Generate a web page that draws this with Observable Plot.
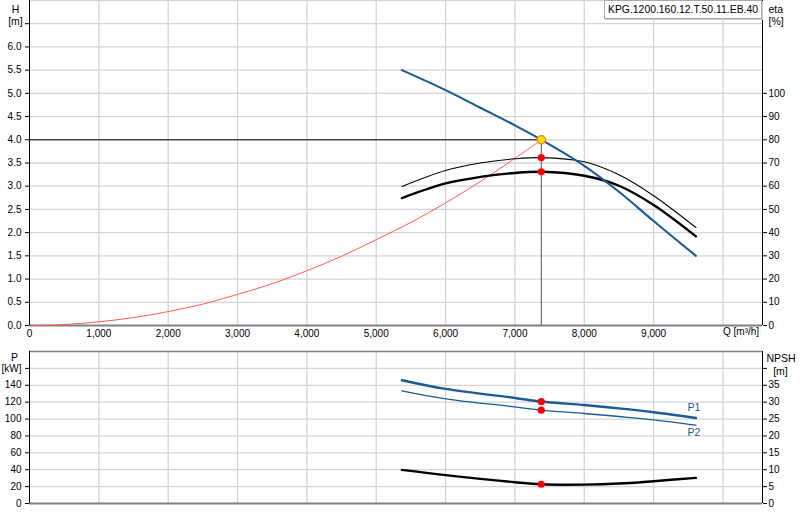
<!DOCTYPE html>
<html><head><meta charset="utf-8">
<script src="https://cdn.jsdelivr.net/npm/d3@7"></script>
<script src="https://cdn.jsdelivr.net/npm/@observablehq/plot@0.6"></script>
<style>
html,body{margin:0;padding:0;background:#fff;}
#wrap{position:relative;width:800px;height:520px;font-family:"Liberation Sans",Arial,sans-serif;}
#wrap svg{display:block;overflow:visible;}
#legend{position:absolute;left:604px;top:0;width:158px;height:19px;border:1px solid #a8a8a8;box-shadow:1px 1px 0 #d0d0d0;background:#fff;font-size:10.4px;line-height:17px;padding-left:3px;box-sizing:border-box;white-space:nowrap;color:#000;}
</style></head><body>
<div id="wrap"></div>
<script>
// ---- data ----
const model = "KPG.1200.160.12.T.50.11.EB.40";
const xMax = 10570;
const xTicks = [0, 1000, 2000, 3000, 4000, 5000, 6000, 7000, 8000, 9000];
const xGrid = [1000, 2000, 3000, 4000, 5000, 6000, 7000, 8000, 9000, 10000];
const qLabel = "Q [m³/h]";
const hTicks = [0, 0.5, 1, 1.5, 2, 2.5, 3, 3.5, 4, 4.5, 5, 5.5, 6, 6.5];
const hGrid = [0.5, 1, 1.5, 2, 2.5, 3, 3.5, 4, 4.5, 5, 5.5, 6, 6.5, 7];
const etaTicks = [0, 10, 20, 30, 40, 50, 60, 70, 80, 90, 100];
const pTicks = [0, 20, 40, 60, 80, 100, 120, 140, 160];
const pGrid = [20, 40, 60, 80, 100, 120, 140, 160];
const npshTicks = [0, 5, 10, 15, 20, 25, 30, 35, 40];

const pumpQ   = [5370, 6000, 6500, 7000, 7380, 8000, 8500, 9000, 9610];
const headH   = [5.50, 5.07, 4.69, 4.31, 4.00, 3.44, 2.88, 2.25, 1.50];
const etaThin = [59.9, 66.8, 70.0, 71.8, 72.3, 70.5, 64.9, 55.9, 42.2];
const etaThick= [54.9, 61.2, 64.0, 65.7, 66.2, 64.5, 60.2, 51.9, 38.4];

const sysQ = [0, 500, 1000, 1500, 2000, 2500, 3000, 3500, 4000, 4500, 5000, 5500, 6000, 6500, 7000, 7380];
const sysH = [0, 0.02, 0.08, 0.17, 0.30, 0.46, 0.67, 0.90, 1.18, 1.49, 1.85, 2.22, 2.64, 3.10, 3.60, 4.00];

const lowQ = [5370, 6000, 7000, 7380, 8000, 8500, 9000, 9610];
const p1   = [146.0, 135.7, 125.0, 120.8, 116.6, 112.6, 108.0, 101.2];
const p2   = [133.4, 123.9, 114.4, 110.5, 106.6, 103.0, 99.0, 92.7];
const npsh = [9.95, 8.4, 6.3, 5.7, 5.6, 5.9, 6.6, 7.6];
const pLabels = ["P1", "P2"];

const opQ = 7380, opH = 4.0, opEtaThin = 72.3, opEtaThick = 66.2, opP1 = 120.8, opP2 = 110.5, opNpsh = 5.7;

// ---- helpers ----
const blue = "#1b5a96";
const gridCol = "#d4d4d4";
const font = '"Liberation Sans", Arial, sans-serif';
const zipXY = (xs, ys, f = v => v) => xs.map((x, i) => ({x, y: f(ys[i])}));
const fmtX = d3.format(",");
const crv = "catmull-rom";

const topChart = Plot.plot({
  width: 800, height: 345,
  marginLeft: 29, marginRight: 38, marginTop: 0, marginBottom: 20,
  style: {fontFamily: font, fontSize: "10px", color: "#000", background: "transparent"},
  x: {domain: [0, xMax], label: null},
  y: {domain: [0, 7], label: null},
  marks: [
    Plot.gridX(xGrid, {stroke: gridCol, strokeOpacity: 1, strokeWidth: 1.3}),
    Plot.gridY(hGrid, {stroke: gridCol, strokeOpacity: 1, strokeWidth: 1.3}),
    Plot.ruleY([0], {stroke: "#808080", strokeWidth: 2}),
    Plot.ruleX([0], {stroke: "#000", strokeWidth: 1}),
    Plot.ruleX([xMax], {stroke: "#000", strokeWidth: 1}),
    Plot.axisX(xTicks, {label: null, tickSize: 0, tickPadding: 4, tickFormat: fmtX, fontSize: 10}),
    Plot.text([qLabel], {x: xGrid[xGrid.length - 1], frameAnchor: "bottom", dy: 9, textAnchor: "start", fontSize: 10}),
    Plot.axisY(hTicks, {label: null, anchor: "left", tickSize: 4, tickPadding: 4, tickFormat: d => d > 6.01 ? "" : d3.format(".1f")(d), fontSize: 10}),
    Plot.axisY(etaTicks.map(e => e / 20), {label: null, anchor: "right", tickSize: 4, tickPadding: 2, tickFormat: d => String(Math.round(d * 20)), fontSize: 10}),
    Plot.text(["H"], {frameAnchor: "top-left", dx: -14, dy: 5, textAnchor: "middle", fontSize: 10.5}),
    Plot.text(["[m]"], {frameAnchor: "top-left", dx: -14, dy: 17, textAnchor: "middle", fontSize: 10.5}),
    Plot.text(["eta"], {frameAnchor: "top-right", dx: 6, dy: 5, textAnchor: "start", fontSize: 10.5}),
    Plot.text(["[%]"], {frameAnchor: "top-right", dx: 6, dy: 17, textAnchor: "start", fontSize: 10.5}),
    Plot.ruleY([opH], {x1: 0, x2: opQ, stroke: "#000", strokeWidth: 1}),
    Plot.ruleX([opQ], {y1: 0, y2: opH, stroke: "#555", strokeWidth: 1}),
    Plot.line(zipXY(sysQ, sysH), {x: "x", y: "y", stroke: "#ff5a5a", strokeWidth: 1, curve: crv}),
    Plot.line(zipXY(pumpQ, etaThin, v => v / 20), {x: "x", y: "y", stroke: "#000", strokeWidth: 1.1, curve: crv}),
    Plot.line(zipXY(pumpQ, etaThick, v => v / 20), {x: "x", y: "y", stroke: "#000", strokeWidth: 2.4, curve: crv}),
    Plot.line(zipXY(pumpQ, headH), {x: "x", y: "y", stroke: blue, strokeWidth: 2.1, curve: crv}),
    Plot.dot([{x: opQ, y: opEtaThin / 20}, {x: opQ, y: opEtaThick / 20}], {x: "x", y: "y", r: 3.6, fill: "#ff0000", stroke: "none"}),
    Plot.dot([{x: opQ, y: opH}], {x: "x", y: "y", r: 4.2, fill: "#ffd800", stroke: "#f08020", strokeWidth: 1.2})
  ]
});

const bottomChart = Plot.plot({
  width: 800, height: 175,
  marginLeft: 29, marginRight: 38, marginTop: 6, marginBottom: 17,
  style: {fontFamily: font, fontSize: "10px", color: "#000", background: "transparent"},
  x: {domain: [0, xMax], axis: null, label: null},
  y: {domain: [0, 180], label: null},
  marks: [
    Plot.gridX(xGrid, {stroke: gridCol, strokeOpacity: 1, strokeWidth: 1.3}),
    Plot.gridY(pGrid, {stroke: gridCol, strokeOpacity: 1, strokeWidth: 1.3}),
    Plot.ruleY([0], {stroke: "#808080", strokeWidth: 2}),
    Plot.ruleY([180], {stroke: "#808080", strokeWidth: 1.5}),
    Plot.ruleX([0], {stroke: "#000", strokeWidth: 1}),
    Plot.ruleX([xMax], {stroke: "#000", strokeWidth: 1}),
    Plot.axisY(pTicks, {label: null, anchor: "left", tickSize: 4, tickPadding: 4, tickFormat: d => d === 160 ? "[kW]" : String(d), fontSize: 10}),
    Plot.axisY(npshTicks.map(n => n * 4), {label: null, anchor: "right", tickSize: 4, tickPadding: 2, tickFormat: d => d === 160 ? "" : String(d / 4), fontSize: 10}),
    Plot.text(["P"], {frameAnchor: "top-left", dx: -15, dy: 2, textAnchor: "middle", fontSize: 10.5}),
    Plot.text(["NPSH"], {frameAnchor: "top-right", dx: 4, dy: 3, textAnchor: "start", fontSize: 10.5}),
    Plot.text(["[m]"], {frameAnchor: "top-right", dx: 18, dy: 16, textAnchor: "middle", fontSize: 10.5}),
    Plot.line(zipXY(lowQ, p1), {x: "x", y: "y", stroke: blue, strokeWidth: 2.4, curve: crv}),
    Plot.line(zipXY(lowQ, p2), {x: "x", y: "y", stroke: blue, strokeWidth: 1.3, curve: crv}),
    Plot.line(zipXY(lowQ, npsh, v => v * 4), {x: "x", y: "y", stroke: "#000", strokeWidth: 2.4, curve: crv}),
    Plot.text([{t: pLabels[0], x: lowQ[lowQ.length - 1], y: p1[p1.length - 1]}], {x: "x", y: "y", text: "t", dx: -2, dy: -10, fill: blue, fontSize: 10.5}),
    Plot.text([{t: pLabels[1], x: lowQ[lowQ.length - 1], y: p2[p2.length - 1]}], {x: "x", y: "y", text: "t", dx: -2, dy: 7, fill: blue, fontSize: 10.5}),
    Plot.dot([{x: opQ, y: opP1}, {x: opQ, y: opP2}, {x: opQ, y: opNpsh * 4}], {x: "x", y: "y", r: 3.6, fill: "#ff0000", stroke: "none"})
  ]
});

const wrap = document.getElementById("wrap");
wrap.appendChild(topChart);
wrap.appendChild(bottomChart);
const lg = document.createElement("div");
lg.id = "legend";
lg.textContent = model;
wrap.appendChild(lg);
</script>
</body></html>
